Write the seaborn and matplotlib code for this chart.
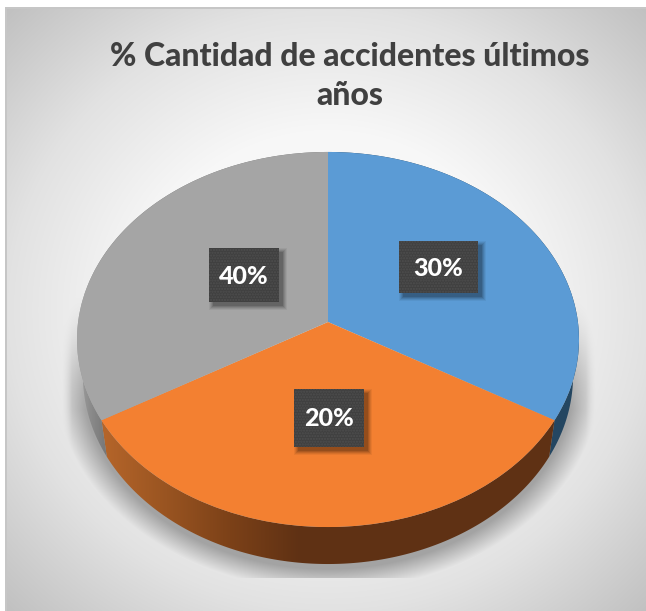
import numpy as np
import matplotlib
matplotlib.use("Agg")
import matplotlib.pyplot as plt
from matplotlib.patches import Polygon, Rectangle
from matplotlib.transforms import Transform
import seaborn as sns

# ---- data ----
title_text = "% Cantidad de accidentes últimos\naños"
slice_names = ["Azul", "Naranja", "Gris"]
slice_shares = [33.4, 33.2, 33.4]      # drawn share of each slice
slice_labels = ["30%", "20%", "40%"]   # printed labels

sns.set_theme(style="white")
plt.rcParams["font.family"] = ["Lato", "DejaVu Sans"]
plt.rcParams["hatch.linewidth"] = 1.0

W, H = 646, 611
top_colors = sns.color_palette(["#5b9bd5", "#f38031", "#a5a5a5"])


class Perspective(Transform):
    """Maps the unit pie onto a tilted disc, in pixel coordinates."""
    input_dims = output_dims = 2
    has_inverse = False

    def __init__(self, cx, cy, a, b, k):
        super().__init__()
        self.cx, self.cy, self.a, self.b, self.k = cx, cy, a, b, k

    def transform_non_affine(self, values):
        values = np.asarray(values, float)
        w = 1 + self.k * values[:, 1]
        return np.c_[self.cx + self.a * values[:, 0] / w,
                     self.cy - self.b * values[:, 1] / w]


top_disc = Perspective(328, 322, 249.9, 185.9, 0.0933)
low_disc = Perspective(328, 358, 244.0, 186.8, 0.0933)

fig = plt.figure(figsize=(W / 100, H / 100), dpi=100, facecolor="white")
ax = fig.add_axes([0, 0, 1, 1])

wedges, _ = ax.pie(slice_shares, colors=top_colors, startangle=90,
                   counterclock=False, radius=1,
                   wedgeprops={"linewidth": 0})
for w in wedges:
    w.set_transform(top_disc + ax.transData)
    w.set_zorder(5)

ax.set_aspect("auto")
ax.set_xlim(0, W)
ax.set_ylim(H, 0)
ax.axis("off")

# ---- background: radial gradient, border and soft shadow ----
yy, xx = np.mgrid[0:H, 0:W] + 0.5
rad = np.hypot((xx - 328) / 320, (yy - 310) / 300)
bg = np.interp(rad, [0, 0.6, 1.0, 1.45], [255, 247, 226, 190])

e = np.hypot((xx - 328) / 246, (yy - 378) / 191)
shade = np.clip((1.11 - e) / 0.11, 0, 1)
shade *= np.clip((xx - 62) / 10, 0, 1) * np.clip((596 - xx) / 10, 0, 1)
shade *= (yy < 578) * np.clip((yy - 290) / 120, 0, 1)
bg = bg * (1 - 0.30 * shade)

rgb = np.repeat(bg[:, :, None], 3, axis=2) / 255
rgb[(xx < 5) | (yy < 7)] = 1.0
edge = ((xx >= 5) & (xx < 7) & (yy >= 7)) | ((yy >= 7) & (yy < 9) & (xx >= 5))
rgb[edge] = 0.78
ax.imshow(rgb, extent=(0, W, H, 0), aspect="auto", zorder=0, interpolation="nearest")
ax.set_xlim(0, W)
ax.set_ylim(H, 0)

# ---- side wall of every slice: horizontal colour ramp clipped to the rim ----
rim_stops = [
    ([328, 579], [(0x24, 0x46, 0x61), (0x24, 0x46, 0x61)]),
    ([103, 160, 230, 300, 553],
     [(0xb5, 0x65, 0x2a), (0x9c, 0x56, 0x22), (0x7c, 0x41, 0x18), (0x5f, 0x31, 0x14), (0x5f, 0x31, 0x14)]),
    ([78, 90, 107], [(0xa0, 0xa0, 0xa0), (0x8c, 0x8c, 0x8c), (0x76, 0x76, 0x76)]),
]
for w, (xs, cols) in zip(wedges, rim_stops):
    t = np.radians(np.linspace(w.theta1, w.theta2, 160))
    unit = np.c_[np.cos(t), np.sin(t)]
    outline = np.vstack([top_disc.transform(unit), low_disc.transform(unit)[::-1]])
    poly = Polygon(outline, closed=True, transform=ax.transData, facecolor="none", linewidth=0)
    ax.add_patch(poly)
    px = np.arange(W) + 0.5
    cols = np.array(cols) / 255
    ramp = np.stack([np.interp(px, xs, cols[:, i]) for i in range(3)], axis=1)[None, :, :]
    im = ax.imshow(ramp, extent=(0, W, H, 0), aspect="auto", zorder=2)
    im.set_clip_path(poly)
ax.set_xlim(0, W)
ax.set_ylim(H, 0)

# ---- label boxes ----
boxes = [(399, 241, 79, 52), (294, 389, 70, 58), (209, 248, 70, 54)]
for (x0, y0, bw, bh), lab in zip(boxes, slice_labels):
    for grow, alpha in zip((4, 3, 2, 1, 0), (0.05, 0.07, 0.09, 0.11, 0.13)):
        ax.add_patch(Rectangle((x0 + 4 - grow, y0 + 4 - grow), bw + 2 * grow, bh + 2 * grow,
                               facecolor="black", alpha=alpha, linewidth=0, zorder=6))
    ax.add_patch(Rectangle((x0, y0), bw, bh, facecolor="#404040", edgecolor="#4e4e4e",
                           hatch="......", linewidth=0, zorder=7))
    ax.text(x0 + bw / 2, y0 + bh / 2 + 1, lab, color="white", fontsize=18, fontweight=900,
            ha="center", va="center", zorder=8)

# ---- title ----
ax.text(350, 76, title_text, color="#404040", fontsize=23, fontweight=900,
        ha="center", va="center", linespacing=1.42, zorder=8)

fig.savefig("out.png", dpi=100, facecolor="white")
